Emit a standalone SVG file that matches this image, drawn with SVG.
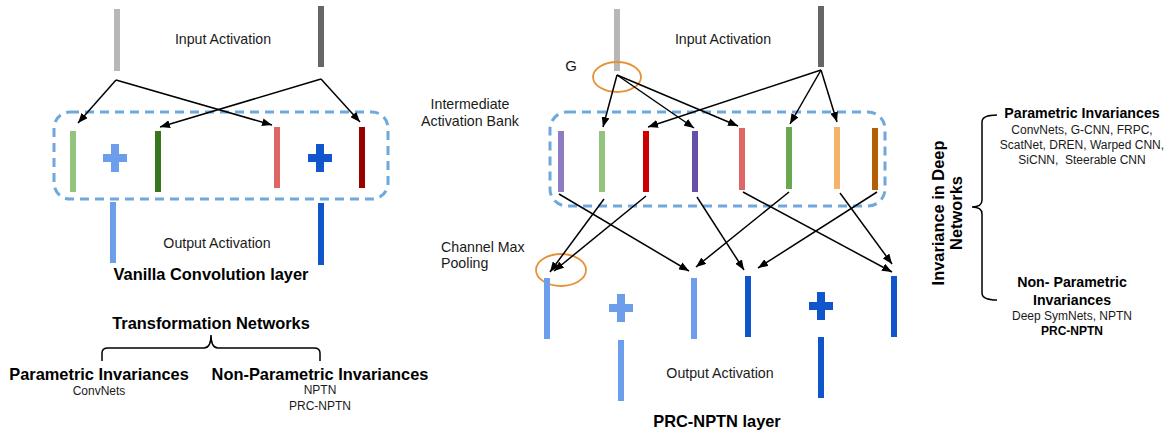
<svg xmlns="http://www.w3.org/2000/svg" width="1169" height="432" viewBox="0 0 1169 432">
<defs>
<marker id="ah" markerUnits="userSpaceOnUse" markerWidth="11" markerHeight="8" refX="10" refY="4" orient="auto">
<path d="M0,0 L10,4 L0,8 z" fill="#000"/>
</marker>
<style>
text{font-family:"Liberation Sans",Arial,sans-serif;fill:#1a1a1a}
.r{font-size:14.2px}
.b{font-size:16.4px;font-weight:bold;fill:#000}
.bs{font-size:14.2px;font-weight:bold;fill:#000}
.s{font-size:12px}
.sb{font-size:12px;font-weight:bold;fill:#000}
.m{text-anchor:middle}
.bank{fill:none;stroke:#6fa8dc;stroke-width:3;stroke-dasharray:9 6}
.ring{fill:none;stroke:#e69138;stroke-width:1.8}
.cn line{stroke:#000;stroke-width:1.5;marker-end:url(#ah)}
.brace{fill:none;stroke:#000;stroke-width:1.5}
</style>
</defs>
<rect width="1169" height="432" fill="#fff"/>

<!-- Left: Vanilla convolution -->
<g id="vanilla-input">
<rect x="114" y="9" width="6" height="62" fill="#b7b7b7"/>
<rect x="318" y="6" width="6" height="61" fill="#666666"/>
<text class="r m" x="223" y="44">Input Activation</text>
</g>
<g id="vanilla-bank">
<rect class="bank" x="54" y="112" width="334" height="87" rx="16"/>
<rect x="70" y="131" width="6" height="61" fill="#93c47d"/>
<rect x="155" y="131" width="6" height="61" fill="#38761d"/>
<rect x="274" y="127" width="6" height="61" fill="#e06666"/>
<rect x="359" y="127" width="6" height="61" fill="#990000"/>
<path d="M103,154h8v-10h8v10h8v8h-8v10h-8v-10h-8z" fill="#6d9eeb"/>
<path d="M308,154h8v-10h8v10h8v8h-8v10h-8v-10h-8z" fill="#1155cc"/>
</g>
<g id="vanilla-output">
<rect x="110" y="202" width="6" height="61" fill="#6d9eeb"/>
<rect x="318" y="203" width="6" height="62" fill="#1155cc"/>
<text class="r m" x="217" y="248">Output Activation</text>
<text class="b m" x="211" y="280">Vanilla Convolution layer</text>
</g>
<g id="transformation-networks">
<text class="b m" x="211" y="329">Transformation Networks</text>
<path class="brace" d="M102,361V353Q102,348 108,348H204Q211,348 211,335Q211,348 218,348H314Q320,348 320,353V361"/>
<text class="b m" x="99" y="380">Parametric Invariances</text>
<text class="s m" x="99" y="395">ConvNets</text>
<text class="b m" x="320" y="380">Non-Parametric Invariances</text>
<text class="s m" x="320" y="394">NPTN</text>
<text class="s m" x="320" y="410">PRC-NPTN</text>
</g>

<!-- Middle: PRC-NPTN -->
<g id="prc-input">
<rect x="614" y="9" width="6" height="62" fill="#b7b7b7"/>
<rect x="818" y="6" width="6" height="61" fill="#666666"/>
<text class="r m" x="723" y="44">Input Activation</text>
<text class="m" x="571" y="71" style="font-size:15px">G</text>
<ellipse class="ring" cx="617" cy="77" rx="24" ry="15"/>
</g>
<g id="prc-bank">
<text class="r m" x="470" y="109">Intermediate</text>
<text class="r m" x="470" y="126">Activation Bank</text>
<rect class="bank" x="550" y="112" width="335" height="94" rx="17"/>
<rect x="558" y="131" width="6" height="61" fill="#8e7cc3"/>
<rect x="599" y="131" width="6" height="61" fill="#93c47d"/>
<rect x="643" y="131" width="6" height="61" fill="#cc0000"/>
<rect x="692" y="131" width="6" height="61" fill="#674ea7"/>
<rect x="739" y="128" width="6" height="62" fill="#e06666"/>
<rect x="786" y="127" width="6" height="62" fill="#6aa84f"/>
<rect x="834" y="127" width="6" height="62" fill="#f6b26b"/>
<rect x="872" y="128" width="6" height="62" fill="#b45f06"/>
</g>
<g id="prc-pooling">
<text class="r" x="441" y="252">Channel Max</text>
<text class="r" x="441" y="268">Pooling</text>
<ellipse class="ring" cx="561" cy="270" rx="25" ry="16"/>
</g>
<g id="prc-output">
<rect x="544" y="278" width="6" height="61" fill="#6d9eeb"/>
<rect x="691" y="278" width="6" height="61" fill="#6d9eeb"/>
<rect x="745" y="276" width="6" height="61" fill="#1155cc"/>
<rect x="891" y="276" width="6" height="61" fill="#1155cc"/>
<path d="M609,304h8v-10h8v10h8v8h-8v10h-8v-10h-8z" fill="#6d9eeb"/>
<path d="M809,302h8v-10h8v10h8v8h-8v10h-8v-10h-8z" fill="#1155cc"/>
<rect x="618" y="340" width="6" height="61" fill="#6d9eeb"/>
<rect x="818" y="337" width="6" height="61" fill="#1155cc"/>
<text class="r m" x="720" y="378">Output Activation</text>
<text class="b m" x="717" y="427">PRC-NPTN layer</text>
</g>

<!-- Right: Invariance in deep networks -->
<g id="invariance-taxonomy">
<text class="b m" transform="translate(944,213) rotate(-90)">Invariance in Deep</text>
<text class="b m" transform="translate(962,213) rotate(-90)">Networks</text>
<path class="brace" d="M997,115Q982,115 982,122V200Q982,207 972,207Q982,207 982,214V293Q982,300 997,300"/>
<text class="bs m" x="1082" y="118">Parametric Invariances</text>
<text class="s m" x="1082" y="134">ConvNets, G-CNN, FRPC,</text>
<text class="s m" x="1082" y="149">ScatNet, DREN, Warped CNN,</text>
<text class="s m" x="1082" y="164" style="white-space:pre">SiCNN,  Steerable CNN</text>
<text class="bs m" x="1072" y="287">Non- Parametric</text>
<text class="bs m" x="1072" y="305">Invariances</text>
<text class="s m" x="1072" y="320">Deep SymNets, NPTN</text>
<text class="sb m" x="1072" y="335">PRC-NPTN</text>
</g>

<g id="connectors" class="cn">
<line x1="116" y1="80" x2="78" y2="123"/>
<line x1="116" y1="80" x2="272" y2="125"/>
<line x1="321" y1="79" x2="160" y2="127"/>
<line x1="321" y1="79" x2="360" y2="122"/>
<line x1="617" y1="75" x2="603" y2="127"/>
<line x1="617" y1="75" x2="694" y2="128"/>
<line x1="617" y1="75" x2="738" y2="126"/>
<line x1="821" y1="70" x2="648" y2="127"/>
<line x1="821" y1="70" x2="790" y2="124"/>
<line x1="821" y1="70" x2="837" y2="122"/>
<line x1="559" y1="194" x2="689" y2="271"/>
<line x1="604" y1="199" x2="550" y2="272"/>
<line x1="646" y1="196" x2="554" y2="271"/>
<line x1="697" y1="197" x2="744" y2="270"/>
<line x1="743" y1="192" x2="892" y2="272"/>
<line x1="789" y1="192" x2="696" y2="267"/>
<line x1="840" y1="193" x2="892" y2="264"/>
<line x1="877" y1="192" x2="758" y2="268"/>
</g>
</svg>
